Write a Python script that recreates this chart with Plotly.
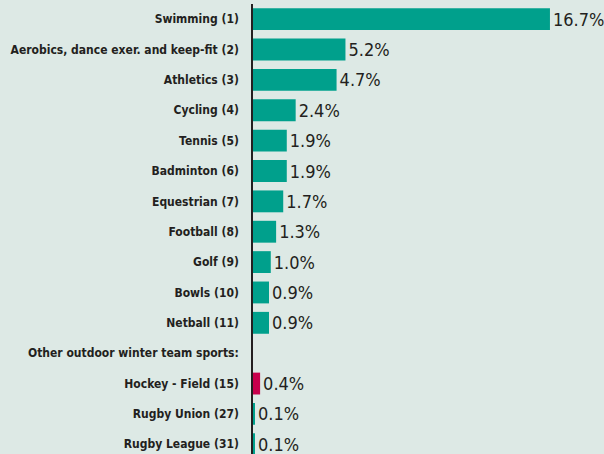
import plotly.graph_objects as go

categories = [
    "Swimming (1)", "Aerobics, dance exer. and keep-fit (2)", "Athletics (3)",
    "Cycling (4)", "Tennis (5)", "Badminton (6)", "Equestrian (7)", "Football (8)",
    "Golf (9)", "Bowls (10)", "Netball (11)", "Other outdoor winter team sports:",
    "Hockey - Field (15)", "Rugby Union (27)", "Rugby League (31)",
]
values = [16.7, 5.2, 4.7, 2.4, 1.9, 1.9, 1.7, 1.3, 1.0, 0.9, 0.9, None, 0.4, 0.1, 0.1]
highlight = "Hockey - Field (15)"

TEAL = "#00a08c"
CRIMSON = "#c8004c"
BG = "#dde9e5"
TXT = "#231f20"
FONT = "DejaVu Sans Condensed"

colors = [CRIMSON if c == highlight else TEAL for c in categories]
texts = ["" if v is None else f"{v:.1f}%" for v in values]

fig = go.Figure(go.Bar(
    x=values, y=categories, orientation="h",
    marker=dict(color=colors, line=dict(width=0)),
    text=texts, textposition="outside", cliponaxis=False,
    textfont=dict(family=FONT, size=18, color=TXT),
    hoverinfo="skip",
))

fig.update_layout(
    width=604, height=454,
    margin=dict(l=253, r=0, t=4, b=0, autoexpand=False),
    paper_bgcolor=BG, plot_bgcolor=BG,
    bargap=0.28, showlegend=False,
    font=dict(family=FONT, color=TXT),
)
fig.update_xaxes(range=[0, 19.74], visible=False, fixedrange=True, automargin=False)
fig.update_yaxes(
    type="category", categoryorder="array", categoryarray=categories,
    range=[14.32, -0.5], showline=True, linecolor="#231f20", linewidth=1.5,
    showgrid=False, zeroline=False, ticks="", ticklabelstandoff=10, automargin=False,
    tickfont=dict(family=FONT, size=12, color=TXT, weight="bold"),
)
fig.write_html(
    "out.html",
    config={"displayModeBar": False},
    post_script="document.body.style.margin='0';document.body.style.overflow='hidden';",
)
